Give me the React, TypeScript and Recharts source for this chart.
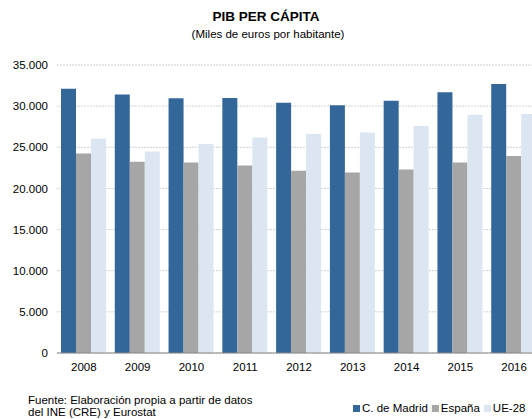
import React from "react";
import { BarChart, Bar, XAxis, YAxis, CartesianGrid } from "recharts";

const years = ["2008", "2009", "2010", "2011", "2012", "2013", "2014", "2015", "2016"];
const madrid = [32100, 31400, 30950, 31000, 30400, 30100, 30650, 31700, 32700];
const espana = [24250, 23250, 23150, 22800, 22150, 21950, 22300, 23150, 23950];
const ue28 = [26050, 24500, 25400, 26200, 26600, 26800, 27600, 28950, 29050];
const yTicks = [0, 5000, 10000, 15000, 20000, 25000, 30000, 35000];

const seriesInfo = [
    { key: "madrid", name: "C. de Madrid", color: "#336699" },
    { key: "espana", name: "España", color: "#A6A6A6" },
    { key: "ue28", name: "UE-28", color: "#DCE6F2" },
];

const data = years.map((year, i) => ({
    year,
    madrid: madrid[i],
    espana: espana[i],
    ue28: ue28[i],
}));

const font = "'Liberation Sans', Arial, sans-serif";

const fmt = (v: number) => v.toLocaleString("de-DE");

export default function App() {
    return (
        <div
            style={{
                position: "absolute",
                left: 0,
                top: 0,
                width: 532,
                height: 419,
                overflow: "hidden",
                background: "#fff",
                fontFamily: font,
            }}
        >
            <div
                style={{
                    position: "absolute",
                    top: 9,
                    width: 532,
                    textAlign: "center",
                    fontWeight: "bold",
                    fontSize: 13.5,
                }}
            >
                PIB PER CÁPITA
            </div>
            <div
                style={{
                    position: "absolute",
                    top: 28,
                    left: 2,
                    width: 532,
                    textAlign: "center",
                    fontSize: 11.5,
                }}
            >
                (Miles de euros por habitante)
            </div>
            <BarChart
                width={541}
                height={419}
                data={data}
                margin={{ top: 65, right: 0, left: 0, bottom: 36 }}
                barGap={0}
                barCategoryGap={4}
            >
                <CartesianGrid vertical={false} stroke="#D0D0D0" strokeDasharray="2 1" />
                <XAxis
                    dataKey="year"
                    height={30}
                    tickSize={0}
                    tickMargin={10}
                    tick={{ fontSize: 11.5, fill: "#000", fontFamily: font }}
                    axisLine={{ stroke: "#868686" }}
                    tickLine={false}
                />
                <YAxis
                    width={57}
                    domain={[0, 35000]}
                    ticks={yTicks}
                    tickFormatter={fmt}
                    tickSize={0}
                    tickMargin={9}
                    tick={{ fontSize: 11.5, fill: "#000", fontFamily: font }}
                    axisLine={false}
                    tickLine={false}
                />
                {seriesInfo.map((s) => (
                    <Bar
                        key={s.key}
                        dataKey={s.key}
                        name={s.name}
                        fill={s.color}
                        isAnimationActive={false}
                    />
                ))}
            </BarChart>
            <div
                style={{
                    position: "absolute",
                    left: 353,
                    top: 402,
                    display: "flex",
                    fontSize: 11.5,
                    lineHeight: "13px",
                }}
            >
                {seriesInfo.map((s) => (
                    <div key={s.key} style={{ display: "flex", alignItems: "center", marginRight: 4 }}>
                        <span
                            style={{
                                display: "inline-block",
                                width: 7,
                                height: 7,
                                background: s.color,
                                marginRight: 2,
                            }}
                        />
                        <span>{s.name}</span>
                    </div>
                ))}
            </div>
            <div
                style={{
                    position: "absolute",
                    left: 28,
                    top: 394,
                    fontSize: 11.5,
                    lineHeight: "12px",
                }}
            >
                Fuente: Elaboración propia a partir de datos
                <br />
                del INE (CRE) y Eurostat
            </div>
        </div>
    );
}
